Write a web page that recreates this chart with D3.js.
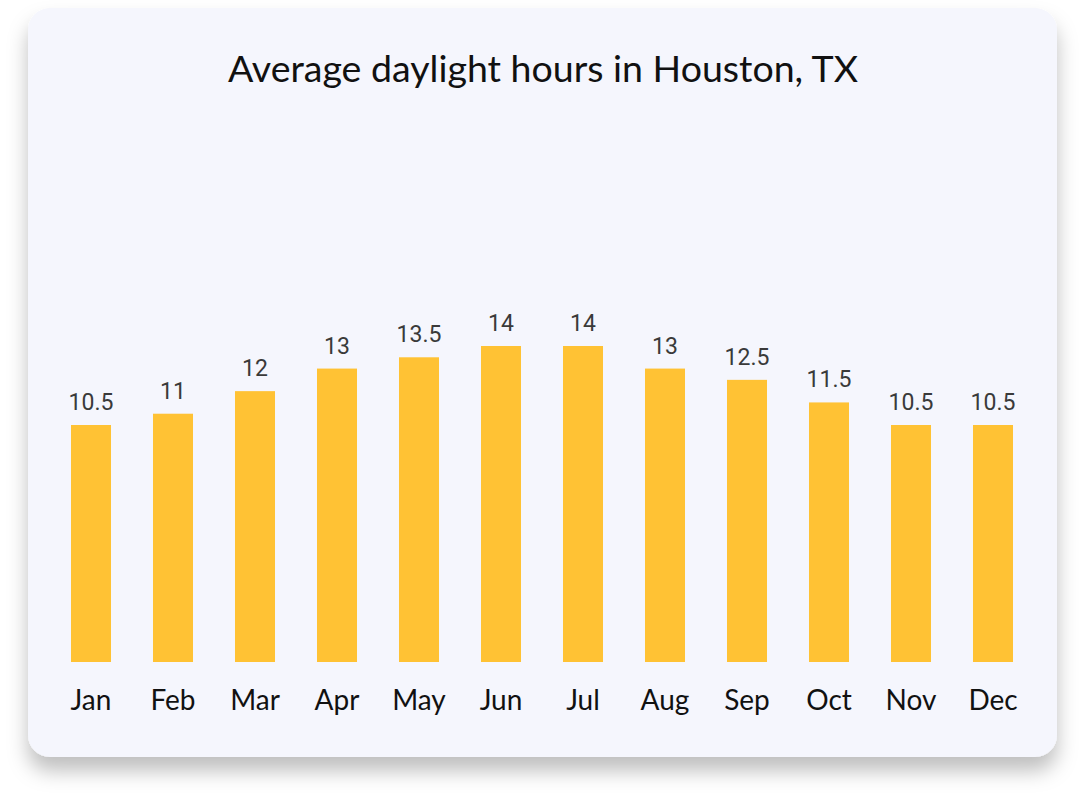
<!DOCTYPE html>
<html><head><meta charset="utf-8">
<script src="https://cdn.jsdelivr.net/npm/d3@7"></script>
<style>html,body{margin:0;padding:0;background:#fff;}svg{display:block;}</style>
</head><body>
<svg id="chart" width="1085" height="806"></svg>
<script>
const months = ["Jan","Feb","Mar","Apr","May","Jun","Jul","Aug","Sep","Oct","Nov","Dec"];
const daylight = [10.5,11,12,13,13.5,14,14,13,12.5,11.5,10.5,10.5];
const valueLabels = ["10.5","11","12","13","13.5","14","14","13","12.5","11.5","10.5","10.5"];
const title = "Average daylight hours in Houston, TX";

const svg = d3.select("#chart");
const defs = svg.append("defs");
const f = defs.append("filter").attr("id","sh").attr("x","-10%").attr("y","-10%").attr("width","120%").attr("height","130%");
f.append("feDropShadow").attr("dx",0).attr("dy",14).attr("stdDeviation",10).attr("flood-color","#000").attr("flood-opacity",0.25);

svg.append("rect").attr("x",28).attr("y",8).attr("width",1029).attr("height",749)
  .attr("rx",22).attr("fill","#f5f6fd").attr("filter","url(#sh)");

svg.append("text").attr("x",543).attr("y",82).attr("text-anchor","middle")
  .attr("font-family","Lato, 'Open Sans', sans-serif").attr("font-size",37.5).attr("fill","#111")
  .text(title);

const x = d3.scaleBand().domain(months).range([50,1034]).paddingInner(0.512).paddingOuter(0.256);
const y = d3.scaleLinear().domain([0,14]).range([662,346]);

const g = svg.append("g");
g.selectAll("rect.bar").data(months).join("rect").attr("class","bar")
  .attr("x",d=>x(d)).attr("width",x.bandwidth())
  .attr("y",(d,i)=>y(daylight[i])).attr("height",(d,i)=>y(0)-y(daylight[i]))
  .attr("fill","#ffc234");

g.selectAll("text.val").data(months).join("text").attr("class","val")
  .attr("x",d=>x(d)+x.bandwidth()/2).attr("y",(d,i)=>y(daylight[i])-15)
  .attr("text-anchor","middle").attr("font-family","Roboto, sans-serif").attr("font-size",23)
  .attr("fill","#3a3a3a").text((d,i)=>valueLabels[i]);

const xAxis = d3.axisBottom(x).tickSize(0).tickPadding(0);
const ax = svg.append("g").attr("transform","translate(0,662)").call(xAxis);
ax.select(".domain").remove();
ax.selectAll("text").attr("dy",0).attr("y",48).attr("font-family","Lato, 'Open Sans', sans-serif")
  .attr("font-size",28).attr("fill","#111");
</script>
</body></html>
